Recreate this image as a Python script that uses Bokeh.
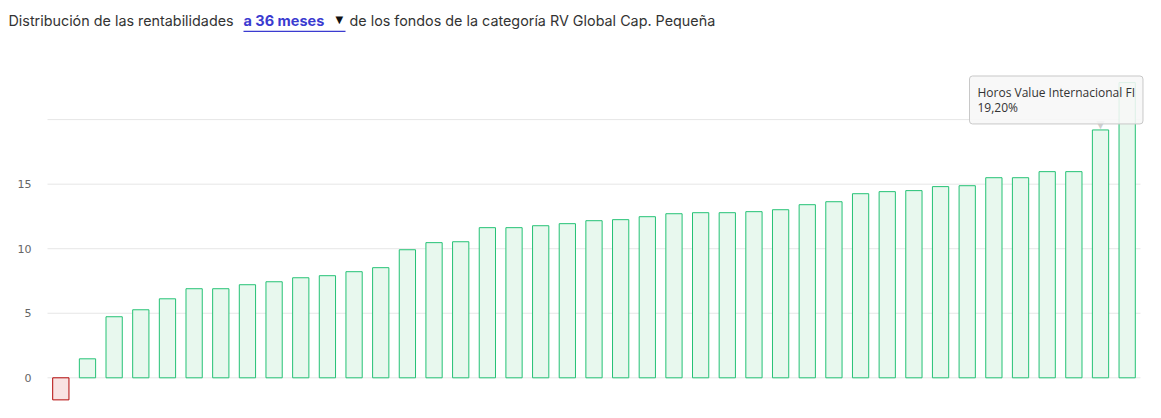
from bokeh.plotting import figure
from bokeh.models import Range1d, Label, BoxAnnotation, ColumnDataSource
from bokeh.core.properties import value
from bokeh.embed import file_html
from bokeh.resources import INLINE

# ---------------- data ----------------
returns = [-1.71, 1.47, 4.73, 5.27, 6.12, 6.90, 6.90, 7.21, 7.44, 7.75, 7.91, 8.22,
           8.53, 9.92, 10.47, 10.54, 11.63, 11.63, 11.78, 11.94, 12.17, 12.25, 12.48,
           12.71, 12.79, 12.79, 12.87, 13.02, 13.41, 13.64, 14.26, 14.42, 14.50, 14.81,
           14.88, 15.50, 15.50, 15.97, 15.97, 19.20, 22.87]
positions = list(range(1, len(returns) + 1))
y_ticks = [0, 5, 10, 15, 20]
y_tick_labels = ["0", "5", "10", "15", ""]
tip_index = 40
tip_name = "Horos Value Internacional FI"
tip_text = "19,20%"
title_parts = ["Distribución de las rentabilidades", "a 36 meses", "▼",
               "de los fondos de la categoría RV Global Cap. Pequeña"]

W, H = 1160, 410
# plot-area geometry (pixels on the canvas)
plot_left, plot_right = 47, 1140
zero_px, px_per_unit_y = 377.3, 12.909

n = len(returns)
px_per_unit_x = (plot_right - plot_left) / n
x_start = 0.5 - plot_left / px_per_unit_x
x_end = x_start + W / px_per_unit_x
y_end = zero_px / px_per_unit_y
y_start = -(H - zero_px) / px_per_unit_y

line_cols = ["#24c275" if v >= 0 else "#b30808" for v in returns]
fill_cols = ["#e8f8ee" if v >= 0 else "#f9e3e3" for v in returns]
src = ColumnDataSource(dict(x=positions, top=returns, lc=line_cols, fc=fill_cols))

p = figure(width=W, height=H, output_backend="svg", toolbar_location=None, title=None,
           x_range=Range1d(x_start, x_end), y_range=Range1d(y_start, y_end),
           min_border=0, outline_line_color=None, tools="")
p.axis.visible = False
p.grid.visible = False

# grid lines
gx0 = positions[0] - 0.5
gx1 = positions[-1] + 0.5
p.segment(x0=[gx0] * len(y_ticks), x1=[gx1] * len(y_ticks), y0=y_ticks, y1=y_ticks,
          line_color="#e6e6e6", line_width=1)

# y tick labels
p.text(x=[gx0] * len(y_ticks), y=y_ticks, text=y_tick_labels, x_offset=-16,
       text_align="right", text_baseline="middle", text_font=value("DejaVu Sans"),
       text_font_size="11px", text_color="#666666")

p.vbar(x="x", top="top", bottom=0, width=0.61, source=src,
       fill_color="fc", line_color="lc", line_width=1)

# tooltip pointer
p.text(x=[tip_index], y=[returns[tip_index - 1]], text=["▼"], text_align="center",
       text_baseline="bottom", text_font_size="11px", text_color="#cfcfcf",
       text_font=value("DejaVu Sans"), y_offset=1)

# tooltip box
p.add_layout(Label(x=tip_index, y=returns[tip_index - 1], x_offset=-131, y_offset=6,
                   text=tip_name + "\n" + tip_text, anchor="bottom_left", padding=8,
                   text_font="Open Sans", text_font_size="12px", text_color="#333333",
                   text_line_height=0.88,
                   background_fill_color="#f7f7f7", background_fill_alpha=0.88,
                   border_line_color="#c8c8c8", border_line_width=1, border_radius=3))

# title (canvas coords, y down)
base_y = 20
p.add_layout(Label(x=8, y=base_y, x_units="canvas", y_units="canvas", text=title_parts[0],
                   text_font="Inter", text_font_size="14.35px", text_color="#333333",
                   text_baseline="alphabetic"))
p.add_layout(Label(x=243, y=base_y, x_units="canvas", y_units="canvas", text=title_parts[1],
                   text_font="Inter", text_font_size="14.5px", text_font_style="bold",
                   text_color="#3b3bd0", text_baseline="alphabetic"))
p.add_layout(Label(x=335, y=base_y - 1, x_units="canvas", y_units="canvas", text=title_parts[2],
                   text_font="DejaVu Sans", text_font_size="10px", text_color="#111111",
                   text_baseline="alphabetic"))
p.add_layout(Label(x=349, y=base_y, x_units="canvas", y_units="canvas", text=title_parts[3],
                   text_font="Inter", text_font_size="14.35px", text_color="#333333",
                   text_baseline="alphabetic"))
p.add_layout(BoxAnnotation(left=243, right=345, top=30.2, bottom=31.4,
                           left_units="canvas", right_units="canvas",
                           top_units="canvas", bottom_units="canvas",
                           fill_color="#3b3bd0", fill_alpha=1, line_color=None))

open("out.html", "w").write(file_html(p, INLINE))
